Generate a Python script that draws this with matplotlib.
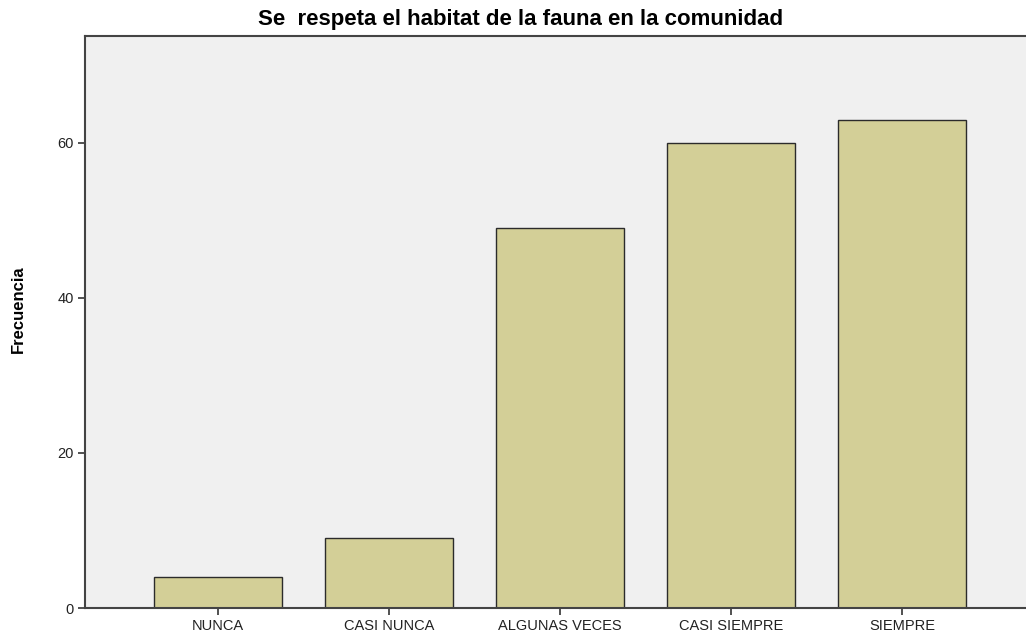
import matplotlib
matplotlib.use("Agg")
import matplotlib.pyplot as plt

categories = ["NUNCA", "CASI NUNCA", "ALGUNAS VECES", "CASI SIEMPRE", "SIEMPRE"]
counts = [4, 9, 49, 60, 63]
yticks = [0, 20, 40, 60]

plt.rcParams["font.family"] = ["Liberation Sans", "DejaVu Sans"]

fig = plt.figure(figsize=(10.26, 6.39), dpi=100)
ax = fig.add_axes([85 / 1026, 1 - 608 / 639, 1 - 85 / 1026, (608 - 36) / 639])
ax.set_facecolor("#f0f0f0")

x = list(range(len(categories)))
ax.bar(x, counts, width=0.75, color="#d3cf97", edgecolor="#2b2b2b", linewidth=1.0, zorder=2)

ax.set_xlim(-0.778, 4.725)
ax.set_ylim(0, 73.8)
ax.set_xticks(x)
ax.set_xticklabels(categories, fontsize=10.5, color="#222222")
ax.set_yticks(yticks)
ax.set_yticklabels([str(v) for v in yticks], fontsize=10.5, color="#222222")
ax.tick_params(axis="both", length=5, width=1.2, color="#333333", pad=3)

for side in ["left", "bottom", "top"]:
    ax.spines[side].set_color("#444444")
    ax.spines[side].set_linewidth(1.5)
ax.spines["right"].set_visible(False)

fig.text(18 / 1026, 1 - 309 / 639, "Frecuencia", rotation=90,
         ha="center", va="center", fontsize=12, fontweight="bold")
fig.text(521 / 1026, 1 - 19 / 639, "Se  respeta el habitat de la fauna en la comunidad",
         ha="center", va="center", fontsize=16, fontweight="bold")

fig.savefig("out.png", dpi=100)
